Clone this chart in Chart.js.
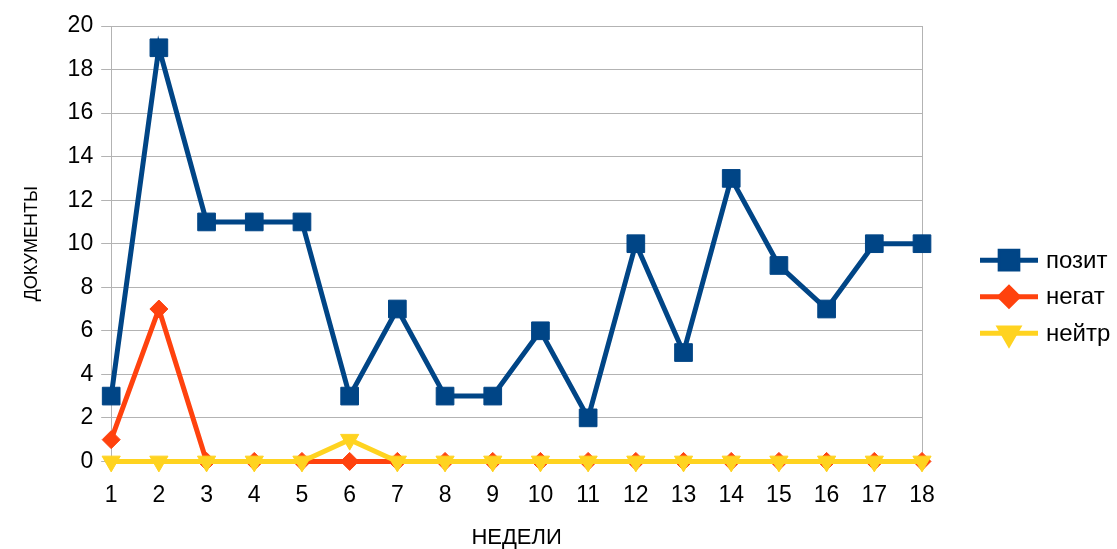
<!DOCTYPE html>
<html>
<head>
<meta charset="utf-8">
<script src="https://cdn.jsdelivr.net/npm/chart.js@4/dist/chart.umd.min.js"></script>
<style>
  html, body { margin: 0; padding: 0; background: #fff; }
  #wrap { width: 1117px; height: 549px; }
</style>
</head>
<body>
<div id="wrap"><canvas id="myChart"></canvas></div>
<script>
const nedeli = ["1", "2", "3", "4", "5", "6", "7", "8", "9", "10", "11", "12", "13", "14", "15", "16", "17", "18"]
const pozit = [3, 19, 11, 11, 11, 3, 7, 3, 3, 6, 2, 10, 5, 13, 9, 7, 10, 10]
const negat = [1, 7, 0, 0, 0, 0, 0, 0, 0, 0, 0, 0, 0, 0, 0, 0, 0, 0]
const neitr = [0, 0, 0, 0, 0, 1, 0, 0, 0, 0, 0, 0, 0, 0, 0, 0, 0, 0]
const seriesNames = ["позит", "негат", "нейтр"]

const gridColor = '#b3b3b3'
const fontFamily = '"Liberation Sans", Arial, sans-serif'

// legend drawn like LibreOffice: line + marker, then the name
const legendLibre = {
    id: 'legendLibre',
    afterDraw(chart) {
        const ctx = chart.ctx
        const area = chart.chartArea
        const x0 = area.right + 58
        const yMid = (area.top + area.bottom) / 2 + 53
        const datasets = chart.data.datasets
        ctx.save()
        datasets.forEach(function (ds, i) {
            const y = yMid + (i - 1) * 36.5
            ctx.strokeStyle = ds.borderColor
            ctx.lineWidth = 5
            ctx.beginPath()
            ctx.moveTo(x0, y)
            ctx.lineTo(x0 + 58, y)
            ctx.stroke()
            Chart.helpers.drawPoint(ctx, {
                pointStyle: ds.pointStyle,
                radius: ds.pointRadius,
                rotation: ds.pointRotation || 0,
                borderWidth: 1
            }, x0 + 29, y)
            ctx.fillStyle = ds.borderColor
            ctx.fill()
            ctx.fillStyle = '#000'
            ctx.font = '24px ' + fontFamily
            ctx.textBaseline = 'middle'
            ctx.textAlign = 'left'
            ctx.fillText(ds.label, x0 + 66, y + 1)
        })
        ctx.restore()
    }
}

function serie(label, data, color, style, radius, rotation, order) {
    return {
        label: label,
        data: data,
        borderColor: color,
        backgroundColor: color,
        pointBackgroundColor: color,
        pointBorderColor: color,
        borderWidth: 5,
        pointStyle: style,
        pointRadius: radius,
        pointHoverRadius: radius,
        pointRotation: rotation,
        pointBorderWidth: 1,
        tension: 0,
        clip: false,
        order: order
    }
}

const config = {
    type: 'line',
    data: {
        labels: nedeli,
        datasets: [
            serie(seriesNames[0], pozit, '#004586', 'rect', 12.5, 0, 0),
            serie(seriesNames[1], negat, '#ff420e', 'rectRot', 9, 0, 2),
            serie(seriesNames[2], neitr, '#ffd320', 'triangle', 10.5, 180, 1)
        ]
    },
    options: {
        responsive: true,
        maintainAspectRatio: false,
        animation: false,
        layout: { padding: { left: 0, right: 195, top: 26, bottom: 0 } },
        plugins: {
            legend: { display: false },
            tooltip: { enabled: false }
        },
        scales: {
            x: {
                offset: false,
                grid: {
                    color: function (c) { return c.index === nedeli.length - 1 ? gridColor : 'transparent' },
                    tickColor: gridColor,
                    tickLength: 6,
                    lineWidth: 1
                },
                border: { display: true, color: gridColor },
                ticks: { color: '#000', font: { family: fontFamily, size: 23 }, padding: 14, maxRotation: 0, autoSkip: false },
                title: { display: true, text: 'НЕДЕЛИ', color: '#000', font: { family: fontFamily, size: 22, lineHeight: 1 }, padding: { top: 4, bottom: 0 } }
            },
            y: {
                min: 0,
                max: 20,
                grid: { color: gridColor, tickColor: gridColor, tickLength: 10 },
                border: { display: true, color: gridColor },
                ticks: { stepSize: 2, color: '#000', font: { family: fontFamily, size: 23 }, padding: 8 },
                title: { display: true, text: 'ДОКУМЕНТЫ', color: '#000', font: { family: fontFamily, size: 18 }, padding: { top: 21, bottom: 17 } }
            }
        }
    },
    plugins: [legendLibre]
}

new Chart(document.getElementById('myChart'), config)
</script>
</body>
</html>
